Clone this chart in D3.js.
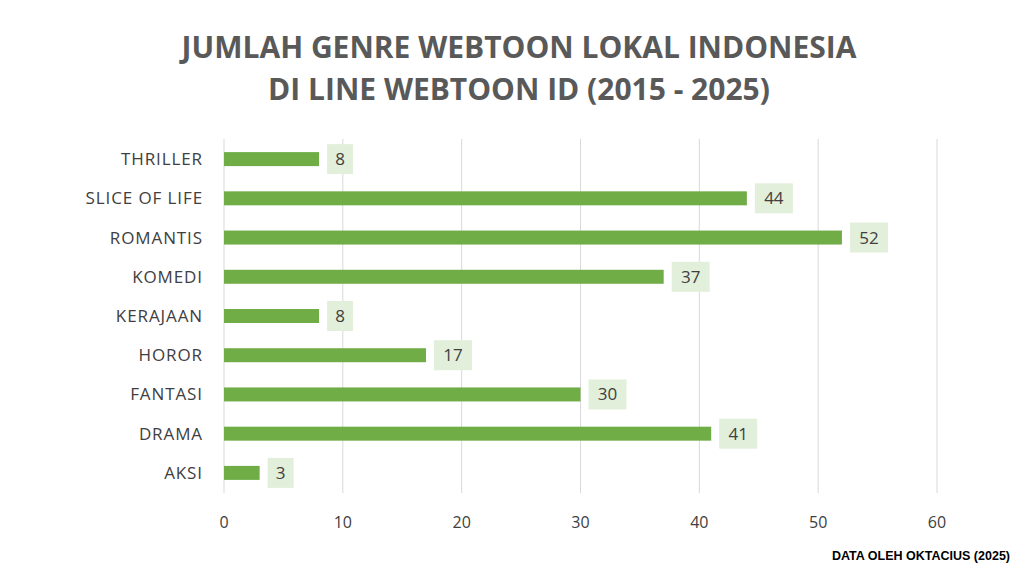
<!DOCTYPE html><html><head><meta charset="utf-8"><script src="https://cdn.jsdelivr.net/npm/d3@7"></script>
<style>body{margin:0;background:#fff}</style></head><body><svg id="c" width="1024" height="576"></svg><script>
const categories=["THRILLER","SLICE OF LIFE","ROMANTIS","KOMEDI","KERAJAAN","HOROR","FANTASI","DRAMA","AKSI"];
const values=[8,44,52,37,8,17,30,41,3];
const ticks=[0,10,20,30,40,50,60];
const titleLines=["JUMLAH GENRE WEBTOON LOKAL INDONESIA","DI LINE WEBTOON ID (2015 - 2025)"];
const svg=d3.select("#c");
const x=d3.scaleLinear().domain([0,60]).range([224,937]);
const y=d3.scaleBand().domain(categories).range([139.5,492.5]);
const font="'Open Sans',sans-serif";
svg.selectAll(".t").data(titleLines).enter().append("text").attr("x",519).attr("y",(d,i)=>58+i*42)
 .attr("text-anchor","middle").attr("font-family",font).attr("font-weight","bold").attr("font-size",30).attr("fill","#595959").text(d=>d);
svg.selectAll(".g").data(ticks.slice(1)).enter().append("line").attr("x1",d=>x(d)).attr("x2",d=>x(d))
 .attr("y1",139).attr("y2",493).attr("stroke","#d9d9d9");
svg.selectAll(".tl").data(ticks).enter().append("text").attr("x",d=>x(d)).attr("y",528).attr("text-anchor","middle")
 .attr("font-family",font).attr("font-size",16).attr("fill","#404040").text(d=>d);
svg.append("line").attr("x1",x(0)).attr("x2",x(0)).attr("y1",139).attr("y2",493).attr("stroke","#d9d9d9");
svg.selectAll(".cl").data(categories).enter().append("text").attr("x",203).attr("y",d=>y(d)+y.bandwidth()/2+6)
 .attr("text-anchor","end").attr("font-family",font).attr("font-size",17).attr("letter-spacing",0.9).attr("fill","#404040").text(d=>d);
const bh=14;
svg.selectAll(".b").data(values).enter().append("rect").attr("x",x(0)).attr("y",(d,i)=>y(categories[i])+y.bandwidth()/2-bh/2)
 .attr("width",d=>x(d)-x(0)).attr("height",bh).attr("fill","#70ad47");
const g=svg.selectAll(".lb").data(values).enter().append("g");
g.append("rect").attr("x",d=>x(d)+8).attr("y",(d,i)=>y(categories[i])+y.bandwidth()/2-15)
 .attr("width",d=>d<10?26:38).attr("height",30).attr("fill","#e2efda");
g.append("text").attr("x",d=>x(d)+8+(d<10?13:19)).attr("y",(d,i)=>y(categories[i])+y.bandwidth()/2+6)
 .attr("text-anchor","middle").attr("font-family",font).attr("font-size",17).attr("fill","#404040").text(d=>d);
svg.append("text").attr("x",1010).attr("y",560).attr("text-anchor","end").attr("font-family","'Liberation Sans',Arial,sans-serif")
 .attr("font-weight","bold").attr("font-size",12.5).attr("fill","#000").text("DATA OLEH OKTACIUS (2025)");
</script></body></html>
